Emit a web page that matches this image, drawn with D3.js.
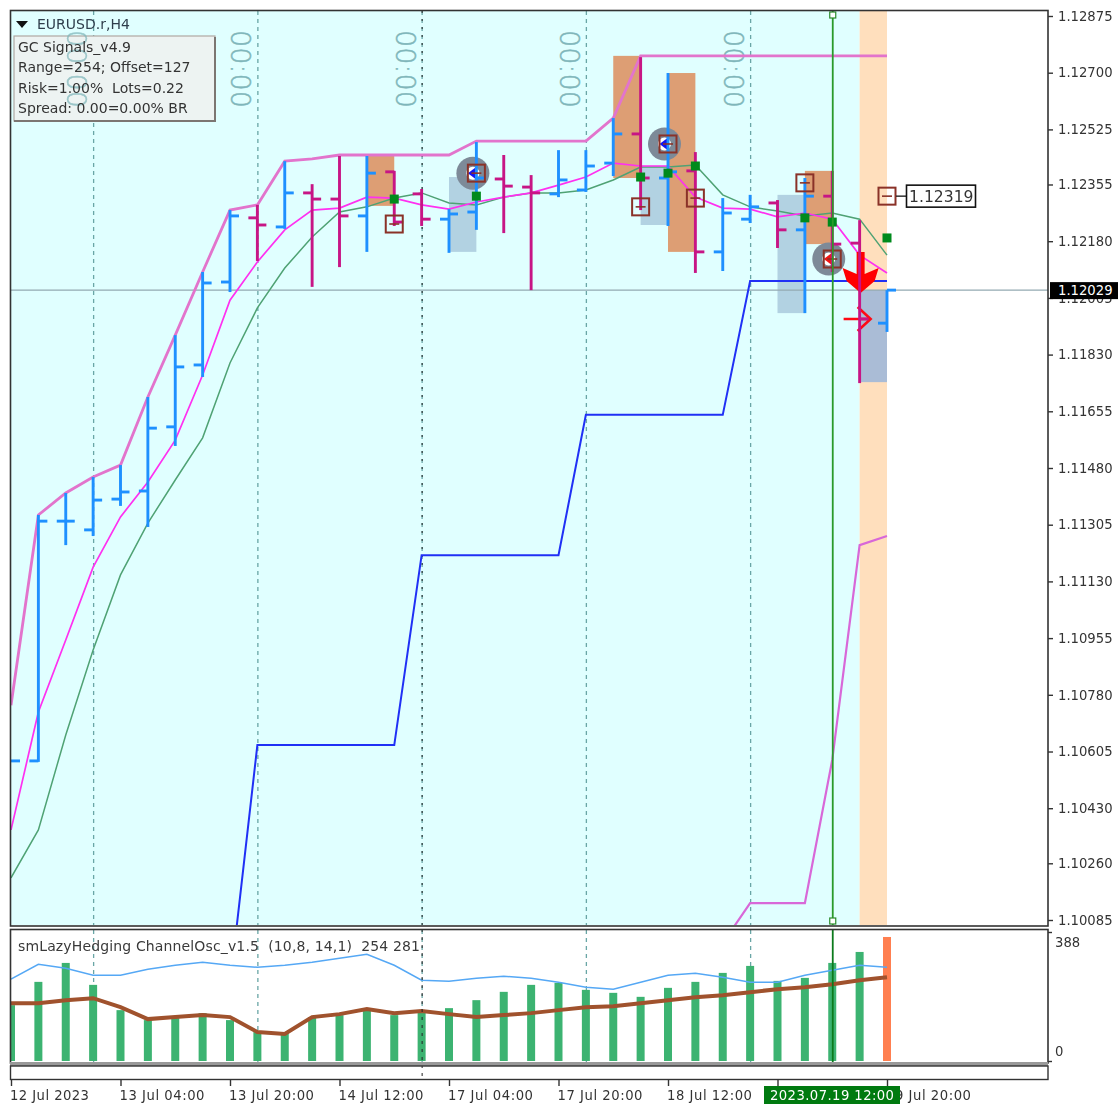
<!DOCTYPE html>
<html><head><meta charset="utf-8">
<script src="https://cdn.jsdelivr.net/npm/d3@7/dist/d3.min.js"></script>
<style>html,body{margin:0;padding:0;background:#fff;overflow:hidden}svg{display:block;filter:blur(0.7px)}text{font-family:"DejaVu Sans",sans-serif;white-space:pre}</style>
</head><body><svg id="c" width="1118" height="1104"></svg>
<script>
const opens=[1.10576,1.10576,1.11316,1.11289,1.11384,1.11409,1.11607,1.11798,1.12054,1.12252,1.12224,1.12329,1.12310,1.12258,1.12394,1.12326,1.12248,1.12270,1.12372,1.12347,1.12326,1.12338,1.12421,1.12511,1.12375,1.12397,1.12147,1.12248,1.12298,1.12215,1.12319,1.12174,1.11927];
const highs=[1.10576,1.11335,1.11403,1.11452,1.11489,1.11699,1.11890,1.12085,1.12276,1.12292,1.12427,1.12356,1.12443,1.12443,1.12397,1.12341,1.12279,1.12486,1.12446,1.12384,1.12461,1.12461,1.12560,1.12748,1.12699,1.12455,1.12313,1.12323,1.12307,1.12375,1.12397,1.12245,1.12029];
const lows=[1.10576,1.10573,1.11242,1.11270,1.11363,1.11298,1.11548,1.11761,1.12023,1.12119,1.12218,1.12039,1.12100,1.12147,1.12227,1.12227,1.12144,1.12215,1.12205,1.12029,1.12316,1.12332,1.12381,1.12276,1.12227,1.12082,1.12088,1.12236,1.12159,1.11958,1.12085,1.11742,1.11900];
const closes=[1.10576,1.11316,1.11316,1.11381,1.11406,1.11603,1.11792,1.12051,1.12258,1.12230,1.12329,1.12310,1.12258,1.12390,1.12239,1.12248,1.12264,1.12375,1.12350,1.12329,1.12369,1.12412,1.12511,1.12375,1.12394,1.12147,1.12267,1.12286,1.12215,1.12319,1.12171,1.11940,1.12029];
const channelUpper=[1.10748,1.11335,1.11403,1.11452,1.11489,1.11699,1.11890,1.12085,1.12276,1.12292,1.12427,1.12434,1.12446,1.12446,1.12446,1.12446,1.12446,1.12489,1.12489,1.12489,1.12489,1.12489,1.12560,1.12752,1.12752,1.12752,1.12752,1.12752,1.12752,1.12752,1.12752,1.12752,1.12752];
const maFast=[1.10363,1.10727,1.10949,1.11174,1.11329,1.11437,1.11566,1.11767,1.11998,1.12116,1.12215,1.12276,1.12282,1.12316,1.12313,1.12292,1.12279,1.12301,1.12316,1.12329,1.12353,1.12378,1.12421,1.12412,1.12412,1.12316,1.12282,1.12279,1.12255,1.12267,1.12248,1.12137,1.12082];
const maSlow=[1.10215,1.10363,1.10656,1.10918,1.11150,1.11310,1.11443,1.11573,1.11804,1.11974,1.12097,1.12193,1.12270,1.12286,1.12313,1.12329,1.12298,1.12292,1.12316,1.12329,1.12329,1.12338,1.12369,1.12409,1.12409,1.12415,1.12323,1.12286,1.12273,1.12258,1.12267,1.12248,1.12137];
const stepIdx=[8,9,14,15,20,21,26,27,32];
const stepVals=[1.09884,1.10625,1.10625,1.11211,1.11211,1.11644,1.11644,1.12057,1.12057];
const lowerIdx=[26,27,29,30,31,32];
const lowerVals=[1.10014,1.10137,1.10137,1.10579,1.11242,1.11270];
const orangeZones=[[13,14,1.12446,1.12289],[22,23,1.12752,1.12375],[24,25,1.12699,1.12147],[29,30,1.12397,1.12171]];
const blueZones=[[16,17,1.12378,1.12147],[23,24,1.12409,1.12230],[28,29,1.12323,1.11958]];
const lastZone=[31,32,1.12029,1.11745];
const boxMarks=[[14,1.12233],[17,1.12390],[23,1.12286],[24,1.12480],[25,1.12313],[29,1.12360],[30,1.12125],[32,1.12319]];
const greenMarks=[[14,1.12310],[17,1.12319],[23,1.12378],[24,1.12390],[25,1.12412],[29,1.12252],[30,1.12239],[32,1.12190]];
const signalMarks=[[17,1.12390,"#1414f0"],[24,1.12480,"#1414f0"],[30,1.12125,"#f01414"]];
const priceTicks=[1.12875,1.12700,1.12525,1.12355,1.12180,1.12005,1.11830,1.11655,1.11480,1.11305,1.11130,1.10955,1.10780,1.10605,1.10430,1.10260,1.10085];
const bidPrice=1.12029, targetPrice=1.12319;
const midnightIdx=[3,9,15,21,27];
const timeIdx=[0,4,8,12,16,20,24,32];
const timeLabels=["12 Jul 2023","13 Jul 04:00","13 Jul 20:00","14 Jul 12:00","17 Jul 04:00","17 Jul 20:00","18 Jul 12:00","19 Jul 20:00"];
const oscBars=[168,238,295,229,153,123,129,144,123,87,84,132,138,153,138,147,159,183,208,229,235,214,205,193,220,238,265,286,241,250,295,328,373];
const oscBlue=[246,291,279,258,258,276,288,297,288,282,288,297,309,321,288,243,240,249,255,249,237,222,216,237,258,264,252,237,237,258,273,288,282];
const oscBrown=[174,174,183,189,162,126,132,138,132,87,81,132,141,156,144,150,141,132,138,144,153,162,165,174,183,192,198,207,216,222,231,243,252];
const legendLines=["GC Signals_v4.9","Range=254; Offset=127","Risk=1.00%  Lots=0.22","Spread: 0.00=0.00% BR"];

const svg=d3.select("#c");
const x=d3.scaleLinear().domain([0,32]).range([11,887]);
const y=d3.scaleLinear().domain([1.10085,1.12875]).range([920,16]);
const y2=d3.scaleLinear().domain([0,388]).range([1061,932]);
const idx=d3.range(33);
const defs=svg.append("defs");
defs.append("clipPath").attr("id","main").append("rect").attr("x",11).attr("y",11).attr("width",1037).attr("height",914);
defs.append("clipPath").attr("id","sub").append("rect").attr("x",11).attr("y",930).attr("width",1037).attr("height",132);
const BLUE="#1e90ff",MAG="#c71585",ZERO="#7fb6ba";

const main=svg.append("g").attr("clip-path","url(#main)");
main.append("rect").attr("x",11).attr("y",11).attr("width",x(31)-11).attr("height",914).attr("fill","#e0ffff");
main.append("rect").attr("x",x(31)).attr("y",11).attr("width",x(32)-x(31)).attr("height",914).attr("fill","#ffdfbd");

const zone=(d,col)=>main.append("rect").attr("x",x(d[0])).attr("width",x(d[1])-x(d[0])).attr("y",y(d[2])).attr("height",y(d[3])-y(d[2])).attr("fill",col);
orangeZones.forEach(d=>zone(d,"#dd9e74"));
blueZones.forEach(d=>zone(d,"#b2d2e2"));
zone(lastZone,"#aabcd6");

const zeroText=(g,i)=>g.append("text").attr("transform",`translate(${x(i)-26},30) rotate(90)`).attr("font-size",27).attr("font-weight",200).attr("fill",ZERO).attr("stroke",ZERO).attr("stroke-width",0.5).text("00:00");
midnightIdx.forEach(i=>{
  main.append("line").attr("x1",x(i)+.5).attr("x2",x(i)+.5).attr("y1",11).attr("y2",925).attr("stroke","#6aa6a6").attr("stroke-width",1.3).attr("stroke-dasharray","4,4");
  if(i!==3) zeroText(main,i);
});
main.append("line").attr("x1",x(15)+.5).attr("x2",x(15)+.5).attr("y1",11).attr("y2",925).attr("stroke","#222").attr("stroke-width",1).attr("stroke-dasharray","2,6");
main.append("line").attr("x1",11).attr("x2",1048).attr("y1",y(bidPrice)).attr("y2",y(bidPrice)).attr("stroke","#93aab2").attr("stroke-width",1.4);

const line=d3.line().x(d=>x(d[0])).y(d=>y(d[1]));
const drawLine=(pts,col,w)=>main.append("path").attr("d",line(pts)).attr("fill","none").attr("stroke",col).attr("stroke-width",w);
drawLine(idx.map(i=>[i,channelUpper[i]]),"#e274cc",2.8);
drawLine(idx.map(i=>[i,maSlow[i]]),"#4fa274",1.5);
drawLine(idx.map(i=>[i,maFast[i]]),"#ff30f0",1.7);
drawLine(stepIdx.map((i,k)=>[i,stepVals[k]]),"#2030f5",2);
drawLine(lowerIdx.map((i,k)=>[i,lowerVals[k]]),"#d868d8",2.2);

signalMarks.forEach(d=>main.append("circle").attr("cx",x(d[0])-3.5).attr("cy",y(d[1])).attr("r",16.5).attr("fill","#7d8a98"));
signalMarks.forEach(d=>{
  const cx=x(d[0])-3.5,cy=y(d[1]);
  main.append("circle").attr("cx",cx).attr("cy",cy).attr("r",6.5).attr("fill","#fff");
  main.append("path").attr("d",`M${cx-5},${cy}L${cx+3},${cy-6}L${cx+3},${cy+6}Z`).attr("fill",d[2]);
});

const ax=x(31)+1, ay=y(bidPrice);
main.append("path").attr("d",`M${ax-4},${ay-38}L${ax+4},${ay-38}L${ax+4},${ay-16}L${ax+18},${ay-22}L${ax+14},${ay-9}L${ax},${ay+3}L${ax-14},${ay-9}L${ax-18},${ay-22}L${ax-4},${ay-16}Z`).attr("fill","#ff0000");
const ey=y(closes[31]);
main.append("path").attr("d",`M${ax-17},${ey}L${ax+10},${ey}M${ax-3},${ey-12}L${ax+10},${ey}L${ax-3},${ey+12}`).attr("fill","none").attr("stroke","#ff0a14").attr("stroke-width",2.6);

const bars=main.append("g").selectAll("g").data(idx).join("g").attr("stroke",i=>closes[i]>=opens[i]?BLUE:MAG).attr("stroke-width",2.9);
bars.append("line").attr("x1",i=>x(i)).attr("x2",i=>x(i)).attr("y1",i=>y(highs[i])).attr("y2",i=>y(lows[i]));
bars.append("line").attr("x1",i=>x(i)-9).attr("x2",i=>x(i)).attr("y1",i=>y(opens[i])).attr("y2",i=>y(opens[i]));
bars.append("line").attr("x1",i=>x(i)).attr("x2",i=>x(i)+9).attr("y1",i=>y(closes[i])).attr("y2",i=>y(closes[i]));

boxMarks.forEach(d=>{
  const cx=x(d[0]),cy=y(d[1]);
  main.append("rect").attr("x",cx-8.5).attr("y",cy-8.5).attr("width",17).attr("height",17).attr("fill","none").attr("stroke","#8a3228").attr("stroke-width",2);
  main.append("line").attr("x1",cx-5).attr("x2",cx+5).attr("y1",cy).attr("y2",cy).attr("stroke","#8a3228").attr("stroke-width",1.6);
});
greenMarks.forEach(d=>main.append("rect").attr("x",x(d[0])-4.5).attr("y",y(d[1])-4.5).attr("width",9).attr("height",9).attr("fill","#008a1c"));

const ty=y(targetPrice);
svg.append("line").attr("x1",x(32)+9).attr("x2",906).attr("y1",ty).attr("y2",ty).attr("stroke","#222").attr("stroke-width",1.4);
svg.append("rect").attr("x",906.5).attr("y",ty-11).attr("width",69).attr("height",22).attr("fill","#fff").attr("stroke","#111").attr("stroke-width",1.6);
svg.append("text").attr("x",909).attr("y",ty+6).attr("font-size",15.6).attr("fill","#333").text(d3.format(".5f")(targetPrice));

svg.append("path").attr("d","M16,21L28,21L22,28Z").attr("fill","#111");
svg.append("text").attr("x",37).attr("y",29).attr("font-size",14).attr("fill","#2f3e4c").text("EURUSD.r,H4");
svg.append("rect").attr("x",14).attr("y",36).attr("width",201).attr("height",85).attr("fill","#edf3f2").attr("stroke","#b0a8a2").attr("stroke-width",1.2);
svg.append("path").attr("d","M215,37L215,121L14,121").attr("fill","none").attr("stroke","#7c7672").attr("stroke-width",2);
zeroText(svg,3).attr("opacity",0.75);
svg.selectAll(".leg").data(legendLines).join("text").attr("class","leg").attr("x",18).attr("y",(d,i)=>52+i*20.4).attr("font-size",14).attr("fill","#333").text(d=>d);

const sub=svg.append("g").attr("clip-path","url(#sub)");
midnightIdx.forEach(i=>sub.append("line").attr("x1",x(i)+.5).attr("x2",x(i)+.5).attr("y1",930).attr("y2",1062).attr("stroke","#6aa6a6").attr("stroke-width",1.3).attr("stroke-dasharray","4,4"));
sub.selectAll(".ob").data(idx).join("rect").attr("class","ob").attr("x",i=>x(i)-4).attr("width",8).attr("y",i=>y2(oscBars[i])).attr("height",i=>y2(0)-y2(oscBars[i])).attr("fill",i=>i===32?"#ff7f50":"#3cb371");
const l2=d3.line().x((d,i)=>x(i)).y(d=>y2(d));
sub.append("path").attr("d",l2(oscBlue)).attr("fill","none").attr("stroke","#55a8f5").attr("stroke-width",1.5);
sub.append("path").attr("d",l2(oscBrown)).attr("fill","none").attr("stroke","#a0522d").attr("stroke-width",4);
svg.append("text").attr("x",18).attr("y",951).attr("font-size",14).attr("fill","#3a3a3a").attr("textLength",402).text("smLazyHedging ChannelOsc_v1.5  (10,8, 14,1)  254 281");

svg.append("line").attr("x1",x(15)+.5).attr("x2",x(15)+.5).attr("y1",929).attr("y2",1080).attr("stroke","#222").attr("stroke-width",1).attr("stroke-dasharray","3,5");
svg.append("line").attr("x1",x(30)+.5).attr("x2",x(30)+.5).attr("y1",11).attr("y2",925).attr("stroke","#2a9a2a").attr("stroke-width",1.8);
svg.append("line").attr("x1",x(30)+.5).attr("x2",x(30)+.5).attr("y1",929).attr("y2",1062).attr("stroke","#0c7a1c").attr("stroke-width",1.8);
[15,921].forEach(v=>svg.append("rect").attr("x",x(30)-2.5).attr("y",v-3).attr("width",6).attr("height",6).attr("fill","#fff").attr("stroke","#2a8a2a").attr("stroke-width",1.2));

const frame=(a,b,c,d,w)=>svg.append("rect").attr("x",a).attr("y",b).attr("width",c-a).attr("height",d-b).attr("fill","none").attr("stroke","#333").attr("stroke-width",w);
frame(10.5,10.5,1048,926,1.6);
frame(10.5,929.5,1048,1063,1.6);
svg.append("rect").attr("x",10).attr("y",1062).attr("width",1038).attr("height",4).attr("fill","#999");
frame(10.5,1066,1048,1079.5,1.4);

const ax1=svg.append("g").attr("transform","translate(1048,0)").call(d3.axisRight(y).tickValues(priceTicks).tickFormat(d3.format(".5f")).tickSize(5).tickPadding(5));
ax1.select(".domain").remove();
ax1.selectAll("text").attr("font-size",13.2).style("font-family","'DejaVu Sans'").attr("fill","#333");
ax1.selectAll("line").attr("stroke","#333").attr("stroke-width",1.4);
svg.append("rect").attr("x",1050).attr("y",y(bidPrice)-8).attr("width",68).attr("height",17).attr("fill","#000");
svg.append("text").attr("x",1058).attr("y",y(bidPrice)+5).attr("font-size",13.2).attr("fill","#fff").text(d3.format(".5f")(bidPrice));

const ax2=svg.append("g").attr("transform","translate(1048,0)").call(d3.axisRight(y2).tickValues([0,388]).tickSize(4).tickFormat(()=>""));
ax2.select(".domain").remove();
ax2.selectAll("line").attr("stroke","#333").attr("stroke-width",1.4);
svg.append("text").attr("x",1055).attr("y",947).attr("font-size",13.2).attr("fill","#333").text("388");
svg.append("text").attr("x",1055).attr("y",1056).attr("font-size",13.2).attr("fill","#333").text("0");

d3.range(0,33,4).forEach(i=>svg.append("line").attr("x1",x(i)+.5).attr("x2",x(i)+.5).attr("y1",1079).attr("y2",1086).attr("stroke","#333").attr("stroke-width",1.4));
svg.selectAll(".tl").data(timeLabels).join("text").attr("class","tl").attr("x",(d,k)=>x(timeIdx[k])-1).attr("y",1100).attr("font-size",13.2).attr("fill","#333").attr("textLength",(d,k)=>k===0?79:85).text(d=>d);
svg.append("rect").attr("x",764).attr("y",1086).attr("width",136).attr("height",18).attr("fill","#007a10");
svg.append("text").attr("x",770).attr("y",1100).attr("font-size",13.2).attr("fill","#fff").attr("textLength",124).text("2023.07.19 12:00");
</script></body></html>
